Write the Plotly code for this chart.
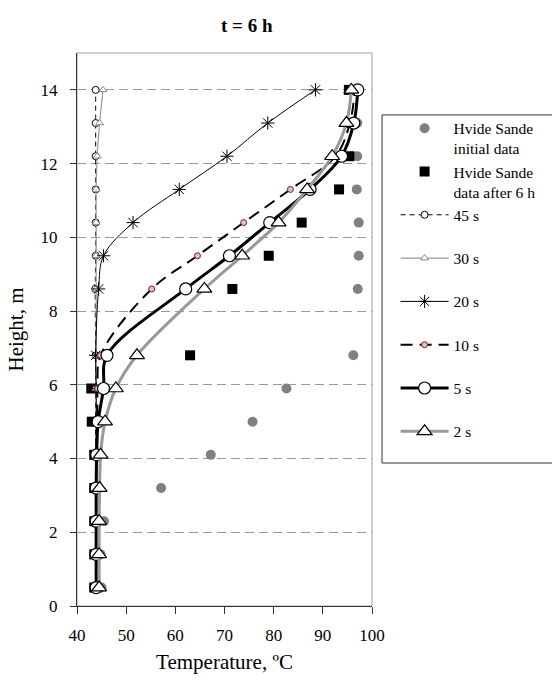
import plotly.graph_objects as go

heights = [0.5, 1.4, 2.3, 3.2, 4.1, 5.0, 5.9, 6.8, 8.6, 9.5, 10.4, 11.3, 12.2, 13.1, 14.0]

initial_data = [45.0, 44.8, 45.5, 57.1, 67.2, 75.7, 82.6, 96.2, 97.1, 97.3, 97.3, 96.9, 97.0, 97.0, 97.0]
after_6h = [43.5, 43.5, 43.5, 43.5, 43.5, 43.0, 42.9, 63.0, 71.6, 79.0, 85.7, 93.3, 95.4, 95.5, 95.3]
s45 = [43.8, 43.8, 43.8, 43.8, 43.8, 43.8, 43.8, 43.8, 43.7, 43.8, 43.8, 43.8, 43.8, 43.8, 43.8]
s30 = [44.0, 44.0, 44.0, 44.0, 44.0, 44.0, 43.9, 43.9, 43.9, 43.9, 43.9, 43.9, 44.1, 44.6, 45.3]
s20 = [43.9, 43.9, 43.9, 43.9, 43.9, 43.9, 43.9, 43.8, 44.4, 45.4, 51.4, 60.8, 70.5, 78.8, 88.5]
s10 = [43.9, 43.9, 43.9, 43.9, 43.9, 44.1, 44.2, 44.8, 55.2, 64.5, 73.9, 83.4, 92.6, 95.5, 96.5]
s5 = [43.9, 43.9, 43.9, 43.9, 44.0, 44.3, 45.4, 46.1, 62.1, 71.0, 79.2, 87.4, 93.8, 96.3, 97.1]
s2 = [44.5, 44.5, 44.5, 44.6, 44.8, 45.7, 47.9, 52.2, 65.9, 73.6, 81.0, 86.8, 91.9, 94.8, 95.8]

legend_names = ["Hvide Sande<br>initial data", "Hvide Sande<br>data after 6 h",
                "45 s<br>\u00a0", "30 s<br>\u00a0", "20 s<br>\u00a0", "10 s<br>\u00a0",
                "5 s<br>\u00a0", "2 s<br>\u00a0"]

x_ticks = [40, 50, 60, 70, 80, 90, 100]
y_ticks = [0, 2, 4, 6, 8, 10, 12, 14]

FONT = "Liberation Serif, Times New Roman, serif"

fig = go.Figure()

fig.add_trace(go.Scatter(
    x=initial_data, y=heights, mode="markers", name=legend_names[0],
    marker=dict(symbol="circle", size=10, color="#808080", line=dict(width=0))))
fig.add_trace(go.Scatter(
    x=after_6h, y=heights, mode="markers", name=legend_names[1],
    marker=dict(symbol="square", size=10, color="black", line=dict(width=0))))
fig.add_trace(go.Scatter(
    x=s45, y=heights, mode="lines+markers", name=legend_names[2],
    line=dict(color="black", width=1, dash="5px,4px", shape="spline"),
    marker=dict(symbol="circle", size=7, color="white", line=dict(color="black", width=1))))
fig.add_trace(go.Scatter(
    x=s30, y=heights, mode="lines+markers", name=legend_names[3],
    line=dict(color="#999999", width=1.2, shape="spline"),
    marker=dict(symbol="triangle-up", size=7, color="white", line=dict(color="#888888", width=1))))
fig.add_trace(go.Scatter(
    x=s20, y=heights, mode="lines+markers", name=legend_names[4],
    line=dict(color="black", width=1, shape="spline"),
    marker=dict(symbol="asterisk-open", size=11, color="black", line=dict(color="black", width=1))))
fig.add_trace(go.Scatter(
    x=s10, y=heights, mode="lines+markers", name=legend_names[5],
    line=dict(color="black", width=2, dash="12px,7px", shape="spline"),
    marker=dict(symbol="circle", size=6, color="#c8c8c8", line=dict(color="#a01010", width=1))))
fig.add_trace(go.Scatter(
    x=s5, y=heights, mode="lines+markers", name=legend_names[6],
    line=dict(color="black", width=3, shape="spline"),
    marker=dict(symbol="circle", size=12, color="white", line=dict(color="black", width=1.2))))
fig.add_trace(go.Scatter(
    x=s2, y=heights, mode="lines+markers", name=legend_names[7],
    line=dict(color="#999999", width=3, shape="spline"),
    marker=dict(symbol="triangle-up", size=13, color="white", line=dict(color="black", width=1.2))))

fig.update_layout(
    width=552, height=689,
    margin=dict(l=77, r=180, t=53, b=83, autoexpand=False),
    paper_bgcolor="white", plot_bgcolor="white",
    font=dict(family=FONT, size=17, color="black"),
    showlegend=True,
    legend=dict(
        x=1.08, y=0.894, xanchor="left", yanchor="top",
        borderwidth=0, bgcolor="rgba(0,0,0,0)",
        font=dict(family=FONT, size=15.5, color="black"),
        tracegroupgap=0, itemwidth=48, valign="top",
    ),
    xaxis=dict(
        range=[40, 100], tickvals=x_ticks, ticktext=[str(v) for v in x_ticks],
        showgrid=False, zeroline=False, showline=True, linecolor="#333333", linewidth=1,
        ticks="outside", ticklen=7, tickcolor="#333333", ticklabelstandoff=7,
        tickfont=dict(family=FONT, size=17),
        title=dict(text="Temperature, ºC", font=dict(family=FONT, size=21), standoff=9),
    ),
    yaxis=dict(
        range=[0, 15], tickvals=y_ticks, ticktext=[str(v) for v in y_ticks],
        showgrid=True, gridcolor="#999999", griddash="9px,5px", gridwidth=1,
        zeroline=False, showline=True, linecolor="#333333", linewidth=1,
        ticks="outside", ticklen=6, tickcolor="#333333", ticklabelstandoff=9,
        tickfont=dict(family=FONT, size=17),
        title=dict(text="Height, m", font=dict(family=FONT, size=21), standoff=11),
    ),
    yaxis2=dict(
        range=[0, 15], tickvals=y_ticks, overlaying="y", anchor="x", side="left",
        ticks="inside", ticklen=6, tickcolor="#333333", showticklabels=False,
        showgrid=False, zeroline=False, showline=False,
    ),
    shapes=[
        dict(type="rect", xref="paper", yref="paper", x0=0, y0=0, x1=1, y1=1,
             line=dict(color="#a0a0a0", width=1), layer="below"),
        dict(type="rect", xref="paper", yref="paper", x0=1.034, y0=0.2586, x1=1.62, y1=0.888,
             line=dict(color="#333333", width=1), fillcolor="rgba(0,0,0,0)", layer="below"),
    ],
    annotations=[dict(text="<b>t = 6 h</b>", xref="paper", yref="paper",
                      x=0.576, y=1, yshift=28, yanchor="middle", xanchor="center",
                      showarrow=False, font=dict(family=FONT, size=19, color="black"))],
)

fig.write_html("out.html")
